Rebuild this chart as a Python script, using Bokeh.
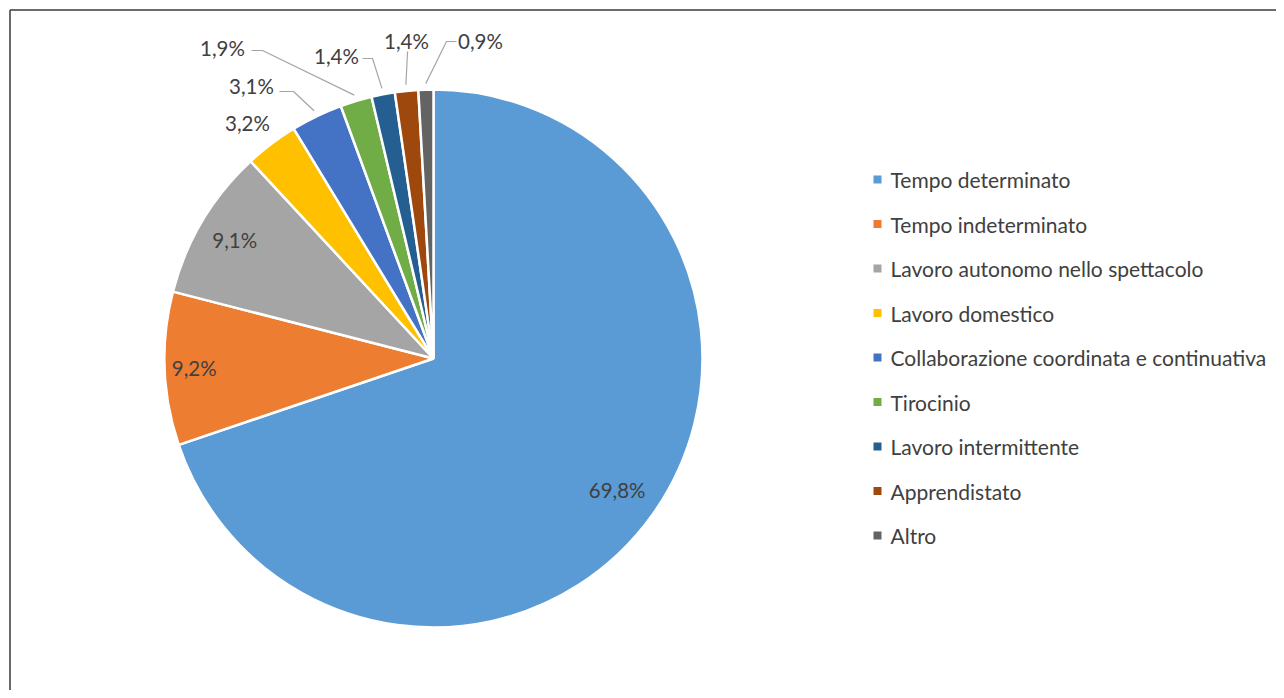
import numpy as np
from bokeh.plotting import figure
from bokeh.models import Range1d, ColumnDataSource
from bokeh.core.properties import value
from bokeh.embed import file_html
from bokeh.resources import INLINE

# ---- data ----
categories = ["Tempo determinato", "Tempo indeterminato", "Lavoro autonomo nello spettacolo",
              "Lavoro domestico", "Collaborazione coordinata e continuativa", "Tirocinio",
              "Lavoro intermittente", "Apprendistato", "Altro"]
shares = [69.8, 9.2, 9.1, 3.2, 3.1, 1.9, 1.4, 1.4, 0.9]
labels = ["69,8%", "9,2%", "9,1%", "3,2%", "3,1%", "1,9%", "1,4%", "1,4%", "0,9%"]
colors = ["#5B9BD5", "#ED7D31", "#A5A5A5", "#FFC000", "#4472C4", "#70AD47", "#255E91", "#9E480E", "#636363"]

FONT = "Lato"
TXT = "#404040"
W, H = 1276, 690


def Y(py):
    # screenshot pixel y -> data y
    return H - py


p = figure(width=W, height=H, x_range=Range1d(0, W), y_range=Range1d(0, H),
           output_backend="svg", toolbar_location=None, min_border=0,
           x_axis_location=None, y_axis_location=None)
p.grid.visible = False
p.outline_line_color = None
p.background_fill_color = "white"

# ---- pie ----
cx, cy, R = 433, Y(358), 269
vals = np.array(shares, dtype=float)
frac = vals / vals.sum()
c1 = np.cumsum(frac)
c0 = c1 - frac
start = np.pi / 2 - 2 * np.pi * c0
end = np.pi / 2 - 2 * np.pi * c1
mid = np.pi / 2 - 2 * np.pi * (c0 + frac / 2)

src = ColumnDataSource(dict(start=start, end=end, color=colors))
p.wedge(x=cx, y=cy, radius=R, start_angle="start", end_angle="end", direction="clock",
        fill_color="color", line_color="white", line_width=2.5, source=src)

# inside labels
inside_r = [0.84, 0.89, 0.86]
ix = [cx + R * f * np.cos(mid[i]) for i, f in enumerate(inside_r)]
iy = [cy + R * f * np.sin(mid[i]) for i, f in enumerate(inside_r)]
p.text(x=ix, y=iy, text=labels[:3], text_align="center", text_baseline="middle",
       text_font=value(FONT), text_font_size="20.5px", text_color=TXT)

# outside labels (text positions in screenshot pixels)
out_pos = [(247, 122), (251, 85), (222, 47), (336, 55), (406, 40), (480, 40)]
p.text(x=[a for a, b in out_pos], y=[Y(b) for a, b in out_pos], text=labels[3:],
       text_align="center", text_baseline="middle",
       text_font=value(FONT), text_font_size="20.5px", text_color=TXT)

# leader lines for slices 4..8
leader_pts = {4: [(279, 91), (293, 91)], 5: [(251, 50), (262, 50)], 6: [(362, 58), (372, 58)],
              7: [(407, 51), (407, 52)], 8: [(456, 41), (446, 41)]}
xs, ys = [], []
for i, pts in leader_pts.items():
    ex = cx + (R + 6) * np.cos(mid[i])
    ey = cy + (R + 6) * np.sin(mid[i])
    xs.append([pts[0][0], pts[1][0], ex])
    ys.append([Y(pts[0][1]), Y(pts[1][1]), ey])
p.multi_line(xs=xs, ys=ys, line_color="#A6A6A6", line_width=1.2)

# ---- legend ----
ly = [Y(179 + 44.5 * i) for i in range(len(categories))]
p.scatter(x=[877] * len(categories), y=ly, marker="square", size=8, fill_color=colors,
          line_color=None)
p.text(x=[890] * len(categories), y=ly, text=categories, text_align="left",
       text_baseline="middle", text_font=value(FONT), text_font_size="21px", text_color=TXT)

# ---- frame lines (top and left) ----
p.segment(x0=[9.5, 9.5], y0=[Y(9.5), Y(9.5)], x1=[W, 9.5], y1=[Y(9.5), 0],
          line_color="#3A3A3A", line_width=1.5)

open("out.html", "w").write(file_html(p, INLINE))
